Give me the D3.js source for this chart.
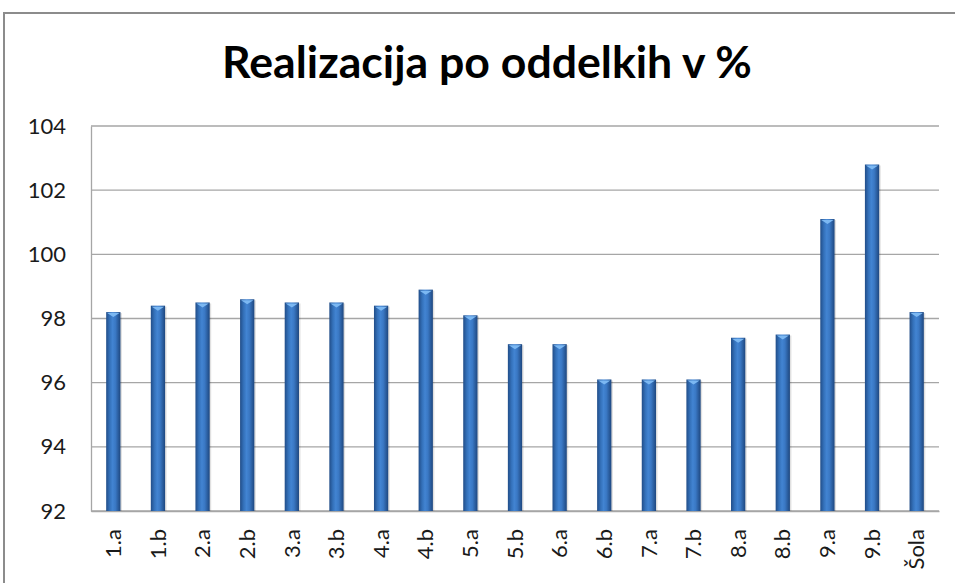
<!DOCTYPE html>
<html>
<head>
<meta charset="utf-8">
<script src="https://cdn.jsdelivr.net/npm/d3@7"></script>
<style>
  html, body { margin: 0; padding: 0; background: #fff; }
  svg { display: block; }
</style>
</head>
<body>
<svg id="chart" width="955" height="583"></svg>
<script>
// Realizacija po oddelkih — stolpični diagram v slogu Excel (valjasti stolpci)

const categories = ["1.a", "1.b", "2.a", "2.b", "3.a", "3.b", "4.a", "4.b", "5.a",
  "5.b", "6.a", "6.b", "7.a", "7.b", "8.a", "8.b", "9.a", "9.b", "Šola"];
const values = [98.2, 98.4, 98.5, 98.6, 98.5, 98.5, 98.4, 98.9, 98.1,
  97.2, 97.2, 96.1, 96.1, 96.1, 97.4, 97.5, 101.1, 102.8, 98.2];
const yTicks = [92, 94, 96, 98, 100, 102, 104];
const title = "Realizacija po oddelkih v %";

const FONT = "Lato, 'Open Sans', sans-serif";

const svg = d3.select("#chart");
const W = 955, H = 583;

// zunanji okvir grafikona (sega čez desni in spodnji rob slike)
svg.append("rect")
  .attr("x", 4).attr("y", 13).attr("width", W + 10).attr("height", H + 10)
  .attr("fill", "#fff").attr("stroke", "#8c8c8c").attr("stroke-width", 2);

const margin = { top: 126, left: 91 };
const iw = 939 - margin.left;
const ih = 511 - margin.top;

const defs = svg.append("defs");
const grad = defs.append("linearGradient").attr("id", "barGrad")
  .attr("x1", "0%").attr("x2", "100%").attr("y1", "0%").attr("y2", "0%");
[["0%", "#214d88"], ["25%", "#3471ba"], ["45%", "#4284d2"], ["65%", "#3a78c4"], ["100%", "#1e477f"]]
  .forEach(([o, c]) => grad.append("stop").attr("offset", o).attr("stop-color", c));

const g = svg.append("g").attr("transform", `translate(${margin.left},${margin.top})`);

const x = d3.scaleBand().domain(categories).range([0, iw]).paddingInner(0.68).paddingOuter(0.34);
const y = d3.scaleLinear().domain([92, 104]).range([ih, 0]);

// mreža
g.append("g").selectAll("line").data(yTicks).join("line")
  .attr("x1", 0).attr("x2", iw)
  .attr("y1", (d) => y(d)).attr("y2", (d) => y(d))
  .attr("stroke", "#a6a6a6").attr("stroke-width", 1.3);

// os Y
const yAxis = g.append("g").call(d3.axisLeft(y).tickValues(yTicks).tickSize(0).tickPadding(25));
yAxis.select(".domain").attr("stroke", "#a6a6a6").attr("stroke-width", 1.3);
yAxis.selectAll("text")
  .style("font-family", FONT).style("font-size", "22px").attr("fill", "#1a1a1a");

// os X
const xAxis = g.append("g").attr("transform", `translate(0,${ih})`)
  .call(d3.axisBottom(x).tickSize(0));
xAxis.select(".domain").attr("stroke", "#a6a6a6").attr("stroke-width", 1.3);
xAxis.selectAll("text")
  .style("font-family", FONT).style("font-size", "22px").attr("fill", "#1a1a1a")
  .attr("transform", "rotate(-90)")
  .attr("x", -18).attr("y", 0).attr("dy", "0.35em")
  .attr("text-anchor", "end");

// senca stolpcev
g.append("g").selectAll("rect").data(values).join("rect")
  .attr("x", (d, i) => x(categories[i]) + 1.5)
  .attr("y", (d) => y(d) + 1)
  .attr("width", x.bandwidth())
  .attr("height", (d) => ih - y(d) - 1)
  .attr("fill", "#000").attr("opacity", 0.12);

// stolpci
g.append("g").selectAll("rect").data(values).join("rect")
  .attr("x", (d, i) => x(categories[i]))
  .attr("y", (d) => y(d))
  .attr("width", x.bandwidth())
  .attr("height", (d) => ih - y(d))
  .attr("fill", "url(#barGrad)");

// svetla konica na vrhu stolpca
g.append("g").selectAll("path").data(values).join("path")
  .attr("d", (d, i) => {
    const x0 = x(categories[i]), bw = x.bandwidth(), t = y(d);
    return `M${x0 + 1},${t + 1}L${x0 + bw - 1},${t + 1}L${x0 + bw / 2},${t + 5}Z`;
  })
  .attr("fill", "#7cb8f2");

// naslov — velikost prilagojena širini naslova v izvirniku (~530 px)
const titleEl = svg.append("text")
  .attr("x", 487).attr("y", 78)
  .attr("text-anchor", "middle")
  .style("font-family", FONT)
  .style("font-weight", "bold").style("font-size", "40px")
  .attr("fill", "#000")
  .text(title);
const tw = titleEl.node().getComputedTextLength();
if (tw > 0) titleEl.style("font-size", `${Math.min(46, 40 * 530 / tw)}px`);
</script>
</body>
</html>
